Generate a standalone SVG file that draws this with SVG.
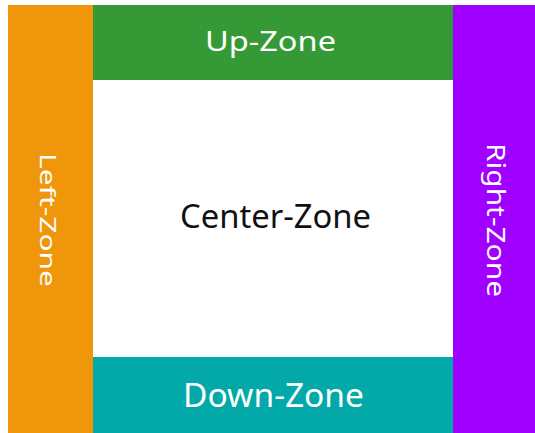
<svg xmlns="http://www.w3.org/2000/svg" width="535" height="433" viewBox="0 0 535 433">
<style>
.lbl{font-family:"Noto Sans","Open Sans","DejaVu Sans",sans-serif;fill:#fff}
.ctr{font-family:"Noto Sans","Open Sans","DejaVu Sans",sans-serif;fill:#111}
</style>
<rect width="535" height="433" fill="#fff"/>
<g id="left-zone">
<rect x="8" y="5" width="85" height="428" fill="#F0960A"/>
<text class="lbl" font-size="21" transform="translate(40,153) rotate(90)" textLength="134" lengthAdjust="spacingAndGlyphs">Left-Zone</text>
</g>
<g id="up-zone">
<rect x="93" y="5" width="360" height="75" fill="#359A35"/>
<text class="lbl" font-size="27" x="205" y="51" textLength="131" lengthAdjust="spacingAndGlyphs">Up-Zone</text>
</g>
<g id="right-zone">
<rect x="453" y="5" width="82" height="428" fill="#A000FF"/>
<text class="lbl" font-size="25" transform="translate(487,143) rotate(90)" textLength="154" lengthAdjust="spacingAndGlyphs">Right-Zone</text>
</g>
<g id="down-zone">
<rect x="93" y="357" width="360" height="76" fill="#02A9A8"/>
<text class="lbl" font-size="32" x="183" y="407" textLength="181" lengthAdjust="spacingAndGlyphs">Down-Zone</text>
</g>
<g id="center-zone">
<text class="ctr" font-size="32" x="180" y="228" textLength="191" lengthAdjust="spacingAndGlyphs">Center-Zone</text>
</g>
<g id="connectors"/>
</svg>
